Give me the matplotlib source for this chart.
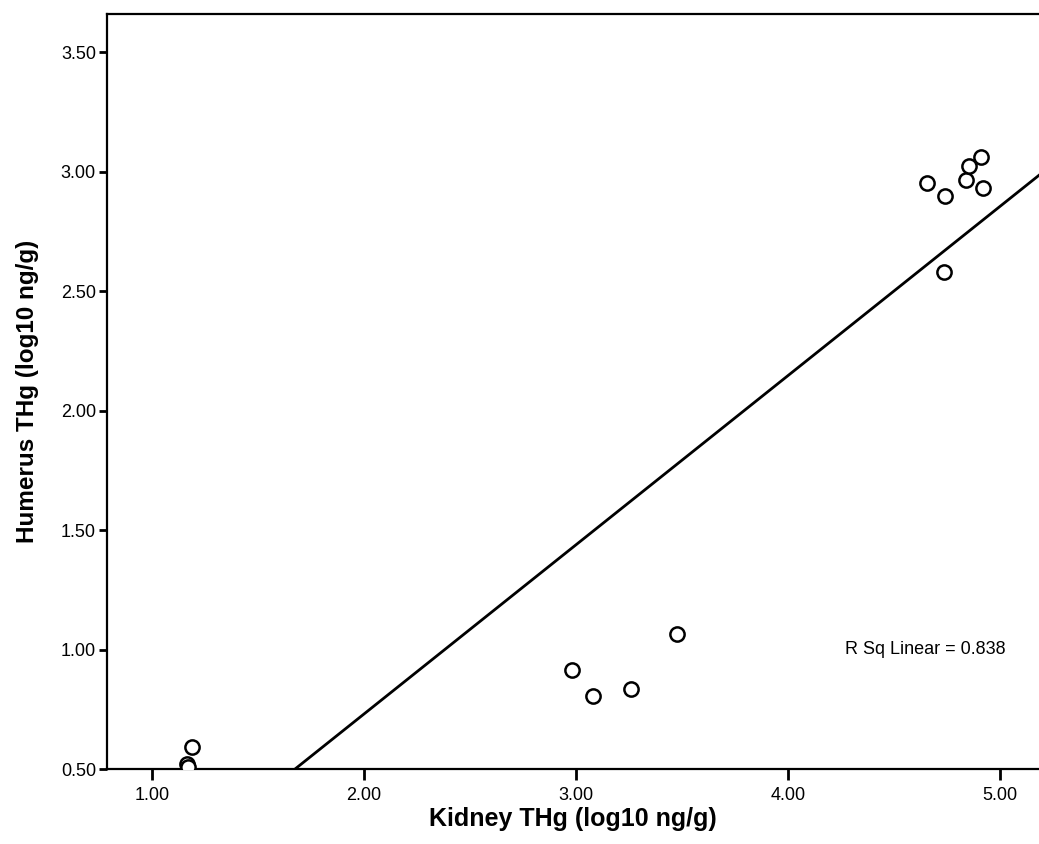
import numpy as np
import matplotlib
matplotlib.use('Agg')
import matplotlib.pyplot as plt

plt.rcParams['font.family'] = ['Liberation Sans', 'DejaVu Sans']

# Datos (log10 ng/g)
kidney = [1.163, 1.170, 1.190, 2.980, 3.079, 3.258, 3.475,
          4.656, 4.741, 4.840, 4.854, 4.910, 4.920, 4.736]
humerus = [0.520, 0.508, 0.593, 0.914, 0.805, 0.833, 1.065,
           2.952, 2.897, 2.964, 3.023, 3.061, 2.931, 2.580]

# Recta de ajuste
fit_slope = 0.708
fit_intercept = -0.686
r_sq = 0.838

xticks = [1.0, 2.0, 3.0, 4.0, 5.0]
yticks = [0.5, 1.0, 1.5, 2.0, 2.5, 3.0, 3.5]

fig = plt.figure(figsize=(10.39, 8.44), dpi=100)
ax = fig.add_axes([107 / 1039, 75 / 844, 1 - 107 / 1039, 755 / 844])

ax.scatter(kidney, humerus, s=105, facecolors='white', edgecolors='black',
           linewidths=1.8, zorder=3)

xlim = (0.788, 5.184)
xs = np.array(xlim)
ax.plot(xs, fit_intercept + fit_slope * xs, color='black', lw=2, zorder=2)

ax.text(4.27, 1.0, 'R Sq Linear = %.3f' % r_sq, fontsize=13, va='center')

ax.set_xlim(*xlim)
ax.set_ylim(0.5, 3.659)
ax.set_xticks(xticks)
ax.set_yticks(yticks)
ax.set_xticklabels(['%.2f' % t for t in xticks])
ax.set_yticklabels(['%.2f' % t for t in yticks])
ax.tick_params(axis='both', labelsize=13, width=2, direction='out')
ax.tick_params(axis='x', length=8, pad=5)
ax.tick_params(axis='y', length=6, pad=2)

for s in ['left', 'bottom', 'top']:
    ax.spines[s].set_linewidth(1.6)
ax.spines['right'].set_visible(False)

ax.set_xlabel('Kidney THg (log10 ng/g)', fontsize=18, fontweight='bold', labelpad=2)
ax.set_ylabel('Humerus THg (log10 ng/g)', fontsize=17.5, fontweight='bold', labelpad=16)

fig.savefig('out.png', dpi=100)
